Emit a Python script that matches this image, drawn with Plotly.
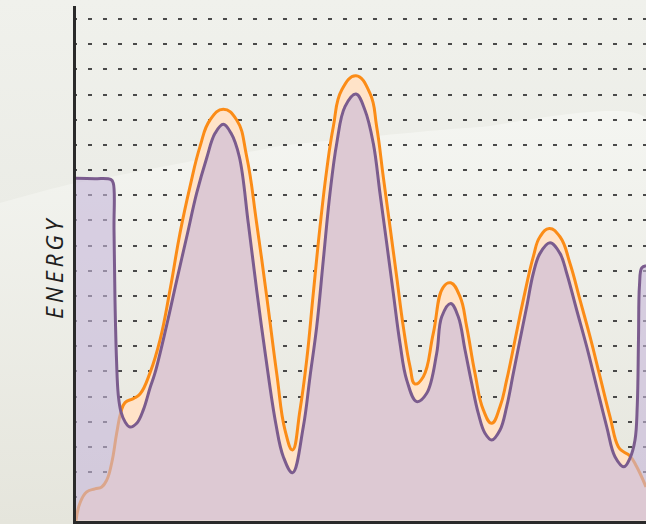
import plotly.graph_objects as go

# ---- data (x in arbitrary units 0-100, y in grid units) ----
purple_x = [0, 3.33, 6.14, 6.54, 6.67, 6.84, 7.11, 7.42, 7.89, 8.60, 9.47, 10.65, 11.81,
            12.98, 13.86, 15.91, 17.67, 19.42, 21.18, 22.93, 24.39, 25.84, 27.19, 28.65,
            30.23, 31.70, 33.28, 35.04, 36.37, 37.98, 39.88, 41.05, 42.23, 43.39, 44.56,
            45.74, 47.19, 49.12, 50.70, 52.16, 53.33, 54.51, 55.67, 56.84, 58.02, 59.77,
            61.53, 63.28, 64.16, 65.74, 67.07, 68.25, 69.42, 70.58, 71.75, 72.93, 74.39,
            75.56, 76.72, 77.89, 79.07, 80.23, 81.40, 83.16, 84.91, 86.09, 87.84, 89.60,
            91.35, 93.11, 94.56, 96.14, 97.19, 98.07, 98.47, 98.68, 98.86, 99.25, 100]
purple_y = [13.68, 13.66, 13.62, 13.48, 11.62, 8.84, 6.45, 5.06, 4.39, 4.00, 3.79, 3.94, 4.47,
            5.34, 5.94, 7.84, 9.62, 11.34, 13.09, 14.48, 15.46, 15.82, 15.47, 14.53,
            11.88, 9.23, 6.58, 3.94, 2.61, 1.97, 3.80, 5.79, 7.78, 10.43, 13.08,
            15.06, 16.52, 17.02, 16.38, 15.06, 13.08, 11.09, 9.10, 7.12, 5.66, 4.80,
            5.13, 6.72, 8.17, 8.70, 8.17, 6.85, 5.53, 4.33, 3.54, 3.27, 3.67,
            4.60, 5.92, 7.25, 8.57, 9.90, 10.69, 11.11, 10.69, 9.90, 8.44, 6.98,
            5.39, 3.80, 2.61, 2.21, 2.55, 3.27, 4.66, 7.25, 9.43, 10.11, 10.20]

orange_x = [0, 0.70, 1.88, 3.33, 4.51, 5.39, 6.26, 7.14, 7.84, 8.60, 10.05, 11.23, 12.98,
            14.74, 16.49, 18.25, 20.00, 21.75, 23.51, 25.84, 28.19, 29.95, 31.70, 33.46,
            35.21, 36.67, 37.98, 39.30, 40.47, 41.63, 42.81, 43.98, 45.14, 46.61, 49.12,
            51.58, 52.75, 53.91, 55.09, 56.26, 57.42, 58.60, 59.47, 60.93, 62.68, 64.44,
            65.74, 67.37, 68.54, 70.00, 71.46, 72.93, 74.39, 75.56, 77.02, 78.47, 80.23,
            81.40, 83.04, 84.91, 86.67, 88.42, 90.18, 91.93, 93.68, 95.14, 96.02, 97.19,
            98.37, 100]
orange_y = [0.06, 0.77, 1.21, 1.33, 1.41, 1.68, 2.36, 3.55, 4.35, 4.76, 4.92, 5.10, 5.94,
            7.25, 9.23, 11.50, 13.34, 14.93, 15.99, 16.42, 15.99, 14.53, 11.88, 8.97,
            5.92, 3.67, 2.88, 4.47, 6.45, 9.10, 11.75, 14.00, 15.72, 17.18, 17.75,
            17.05, 15.72, 13.73, 11.75, 9.76, 7.78, 6.19, 5.50, 5.79, 7.51, 9.35,
            9.52, 8.97, 7.78, 5.92, 4.47, 3.94, 4.60, 5.66, 7.25, 8.84, 10.56,
            11.35, 11.68, 11.35, 10.29, 8.84, 7.38, 5.79, 4.20, 3.01, 2.81, 2.64,
            2.21, 1.41]

axis_title = "E\u2009N\u2009E\u2009R\u2009G\u2009Y"

# background light band boundary (page pixels)
band_x = [0, 67, 110, 193, 260, 280, 440, 480, 646]
band_y = [203, 185, 177, 161, 150, 146, 130, 127, 118]

W, H = 646, 524

fig = go.Figure()

# ---- background (full page, subplot x/y) ----
fig.add_trace(go.Scatter(
    x=[0, W] + band_x[::-1], y=[0, 0] + band_y[::-1],
    mode="lines", line=dict(width=0, shape="spline", smoothing=0.6), fill="toself",
    fillgradient=dict(type="vertical", start=0, stop=210,
                      colorscale=[[0, "#F0F1EC"], [1, "#EBECE6"]]),
    hoverinfo="skip", showlegend=False, xaxis="x", yaxis="y"))
fig.add_trace(go.Scatter(
    x=band_x + [W, 0], y=band_y + [H, H],
    mode="lines", line=dict(width=0, shape="spline", smoothing=0.6), fill="toself",
    fillgradient=dict(type="vertical", start=120, stop=H,
                      colorscale=[[0, "#F4F5F1"], [1, "#E5E5DC"]]),
    hoverinfo="skip", showlegend=False, xaxis="x", yaxis="y"))

# ---- data (subplot x2/y2) ----
fig.add_trace(go.Scatter(
    x=orange_x, y=orange_y, mode="lines",
    line=dict(color="#FB8C17", width=3, shape="spline", smoothing=1.3),
    fill="tozeroy", fillcolor="#FFE3C8",
    hoverinfo="skip", showlegend=False, xaxis="x2", yaxis="y2"))
fig.add_trace(go.Scatter(
    x=purple_x, y=purple_y, mode="lines",
    line=dict(color="#7B5C8E", width=3, shape="spline", smoothing=1.1),
    fill="tozeroy", fillcolor="rgba(199,184,219,0.6)",
    hoverinfo="skip", showlegend=False, xaxis="x2", yaxis="y2"))

fig.update_layout(
    width=W, height=H,
    margin=dict(l=0, r=0, t=0, b=0),
    paper_bgcolor="#EDEEE8",
    plot_bgcolor="rgba(0,0,0,0)",
    hovermode=False,
    xaxis=dict(domain=[0, 1], range=[0, W], visible=False, fixedrange=True),
    yaxis=dict(domain=[0, 1], range=[H, 0], visible=False, fixedrange=True),
    xaxis2=dict(domain=[76 / W, 1], anchor="y2", range=[0, 100],
                showgrid=False, zeroline=False, showticklabels=False, ticks="",
                showline=True, linecolor="#2A2A2A", linewidth=3),
    yaxis2=dict(domain=[(H - 520.5) / H, (H - 6) / H], anchor="x2", range=[0.075, 20.52],
                tick0=0, dtick=1, showgrid=True, gridcolor="#4A4A4A", gridwidth=1.5,
                griddash="1px,11px,3px,0px",
                zeroline=False, showticklabels=False, ticks="",
                showline=True, linecolor="#2A2A2A", linewidth=3),
    annotations=[dict(text=axis_title, x=36 / W, y=(H - 268) / H, xref="paper", yref="paper",
                      showarrow=False, textangle=-90,
                      font=dict(family="Open Sans", size=23, style="italic", color="#1E1E1E"))],
)

fig.write_html("out.html", config={"displayModeBar": False},
               post_script="document.body.style.margin='0';")
